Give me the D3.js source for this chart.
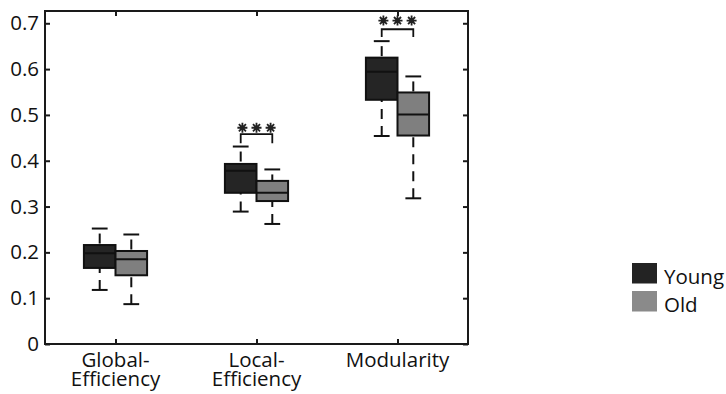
<!DOCTYPE html>
<html>
<head>
<meta charset="utf-8">
<script src="https://cdn.jsdelivr.net/npm/d3@7"></script>
<style>
  html, body { margin: 0; padding: 0; background: #fff; }
  svg { display: block; font-family: "Open Sans", sans-serif; }
</style>
</head>
<body>
<svg id="chart" width="726" height="394"></svg>
<script>
// ---- data ----
const categories = ["Global-\nEfficiency", "Local-\nEfficiency", "Modularity"];
const groups = ["Young", "Old"];
const yTicks = [0, 0.1, 0.2, 0.3, 0.4, 0.5, 0.6, 0.7];
const yTickLabels = ["0", "0.1", "0.2", "0.3", "0.4", "0.5", "0.6", "0.7"];
// [lowerWhisker, q1, median, q3, upperWhisker] per category
const youngStats = [
  [0.118, 0.166, 0.198, 0.216, 0.252],
  [0.289, 0.330, 0.378, 0.393, 0.431],
  [0.454, 0.533, 0.594, 0.625, 0.661]
];
const oldStats = [
  [0.087, 0.150, 0.185, 0.203, 0.239],
  [0.262, 0.312, 0.330, 0.356, 0.381],
  [0.318, 0.455, 0.501, 0.549, 0.584]
];
// significance markers: category index, star level, bracket level, leg bottom
const sigCategories = [1, 2];
const sigStarY = [0.472, 0.706];
const sigBracketY = [0.458, 0.687];
const sigLegY = [0.438, 0.670];
const starLabels = ["*", "*", "*"];

// ---- layout ----
const W = 726, H = 394;
const plot = { left: 45, right: 468, top: 11, bottom: 344 };
const yMax = 0.7268;
const groupOffset = [-0.112, 0.112];
const boxW = 0.224;
const fills = ["#252525", "#7f7f7f"];
const legendFills = ["#232323", "#8a8a8a"];
const fontSize = 20.5;

const svg = d3.select("#chart");
const x = d3.scaleLinear().domain([0.5, 3.5]).range([plot.left, plot.right]);
const y = d3.scaleLinear().domain([0, yMax]).range([plot.bottom, plot.top]);

const tickLen = 5;
const axisColor = "#1a1a1a";

// Frame
svg.append("rect")
  .attr("x", plot.left).attr("y", plot.top)
  .attr("width", plot.right - plot.left).attr("height", plot.bottom - plot.top)
  .attr("fill", "none").attr("stroke", axisColor).attr("stroke-width", 2);

// Left axis
const yAxisL = d3.axisLeft(y).tickValues(yTicks).tickSize(-tickLen).tickPadding(6)
  .tickFormat((d, i) => yTickLabels[i]);
const gL = svg.append("g").attr("transform", `translate(${plot.left},0)`).call(yAxisL);
gL.select(".domain").remove();
gL.selectAll(".tick line").attr("stroke", axisColor).attr("stroke-width", 2);
gL.selectAll(".tick text").attr("font-size", fontSize).attr("fill", "#111")
  .attr("font-family", "Open Sans, sans-serif");

// Right axis ticks
const yAxisR = d3.axisRight(y).tickValues(yTicks).tickSize(-tickLen).tickFormat("");
const gR = svg.append("g").attr("transform", `translate(${plot.right},0)`).call(yAxisR);
gR.select(".domain").remove();
gR.selectAll(".tick line").attr("stroke", axisColor).attr("stroke-width", 2);

// Bottom axis
const xAxisB = d3.axisBottom(x).tickValues([1, 2, 3]).tickSize(-tickLen).tickFormat("");
const gB = svg.append("g").attr("transform", `translate(0,${plot.bottom})`).call(xAxisB);
gB.select(".domain").remove();
gB.selectAll(".tick line").attr("stroke", axisColor).attr("stroke-width", 2);

// Top axis
const xAxisT = d3.axisTop(x).tickValues([1, 2, 3]).tickSize(-tickLen).tickFormat("");
const gT = svg.append("g").attr("transform", `translate(0,${plot.top})`).call(xAxisT);
gT.select(".domain").remove();
gT.selectAll(".tick line").attr("stroke", axisColor).attr("stroke-width", 2);

// Category labels (one text per line)
categories.forEach((c, i) => {
  const lines = c.split("\n");
  lines.forEach((ln, k) => {
    svg.append("text")
      .attr("text-anchor", "middle")
      .attr("font-size", fontSize).attr("fill", "#111")
      .attr("x", x(i + 1)).attr("y", 367 + k * 19).text(ln);
  });
});

// Boxes
const allStats = [youngStats, oldStats];
allStats.forEach((stats, g) => {
  stats.forEach((s, i) => {
    const cx = x(i + 1 + groupOffset[g]);
    const halfW = (x(boxW) - x(0)) / 2;
    const capHalf = halfW / 2;
    const gg = svg.append("g");
    gg.append("line").attr("x1", cx).attr("x2", cx)
      .attr("y1", y(s[4])).attr("y2", y(s[3]))
      .attr("stroke", "#111").attr("stroke-width", 2).attr("stroke-dasharray", "10,7")
      .attr("stroke-dashoffset", -5);
    gg.append("line").attr("x1", cx).attr("x2", cx)
      .attr("y1", y(s[0])).attr("y2", y(s[1]))
      .attr("stroke", "#111").attr("stroke-width", 2).attr("stroke-dasharray", "10,7");
    [s[0], s[4]].forEach(v => {
      gg.append("line").attr("x1", cx - capHalf).attr("x2", cx + capHalf)
        .attr("y1", y(v)).attr("y2", y(v))
        .attr("stroke", "#111").attr("stroke-width", 2);
    });
    gg.append("rect").attr("x", cx - halfW).attr("y", y(s[3]))
      .attr("width", 2 * halfW).attr("height", y(s[1]) - y(s[3]))
      .attr("fill", fills[g]).attr("stroke", "#111").attr("stroke-width", 2);
    gg.append("line").attr("x1", cx - halfW).attr("x2", cx + halfW)
      .attr("y1", y(s[2])).attr("y2", y(s[2]))
      .attr("stroke", "#111").attr("stroke-width", 2);
  });
});

// Significance brackets & stars
const starSymbol = {
  draw(ctx, size) {
    const r = Math.sqrt(size) / 2;
    const d = r * Math.SQRT1_2;
    ctx.moveTo(-r, 0); ctx.lineTo(r, 0);
    ctx.moveTo(0, -r); ctx.lineTo(0, r);
    ctx.moveTo(-d, -d); ctx.lineTo(d, d);
    ctx.moveTo(-d, d); ctx.lineTo(d, -d);
  }
};
const starOffsets = [-0.1, 0, 0.1];
sigCategories.forEach((ci, k) => {
  const x1 = x(ci + 1 + groupOffset[0]);
  const x2 = x(ci + 1 + groupOffset[1]);
  svg.append("path")
    .attr("d", `M${x1},${y(sigLegY[k])}V${y(sigBracketY[k])}H${x2}V${y(sigLegY[k])}`)
    .attr("fill", "none").attr("stroke", "#111").attr("stroke-width", 1.8);
  starOffsets.forEach((o, j) => {
    svg.append("path")
      .attr("d", d3.symbol().type(starSymbol).size(100)())
      .attr("transform", `translate(${x(ci + 1 + o)},${y(sigStarY[k])})`)
      .attr("fill", "none").attr("stroke", "#222").attr("stroke-width", 1.8);
    svg.append("text")
      .attr("x", x(ci + 1 + o)).attr("y", y(sigStarY[k]))
      .attr("text-anchor", "middle").attr("dy", "0.35em")
      .attr("font-size", 1).attr("fill", "none").text(starLabels[j]);
  });
});

// Legend
groups.forEach((gname, i) => {
  const ly = 263 + i * 28;
  svg.append("rect").attr("x", 632).attr("y", ly).attr("width", 25).attr("height", 20.5)
    .attr("fill", legendFills[i]);
  svg.append("text").attr("x", 664).attr("y", ly + 20.5).attr("font-size", fontSize)
    .attr("fill", "#111").text(gname);
});
</script>
</body>
</html>
